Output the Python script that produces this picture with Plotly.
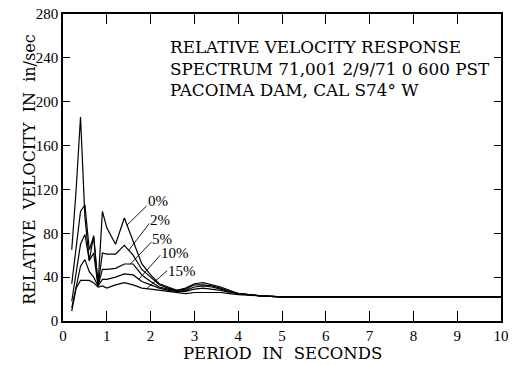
import numpy as np
import plotly.graph_objects as go

# Natural periods (seconds)
periods = [0.2, 0.3, 0.4, 0.5, 0.6, 0.7, 0.8, 0.9, 1.0, 1.2, 1.4, 1.6, 1.8, 2.0,
           2.2, 2.4, 2.6, 2.8, 3.0, 3.2, 3.4, 3.6, 3.8, 4.0, 4.5, 5.0, 5.5, 6.0,
           7.0, 8.0, 9.0, 10.0]

# Relative velocity (in/sec) for each damping ratio
damp_0 = [65, 120, 186, 95, 55, 78, 33, 100, 85, 70, 94, 72, 52, 42,
          34, 31, 28, 30, 34, 35, 33, 31, 28, 25, 23, 22, 22, 22, 22, 22, 22, 22]
damp_2 = [34, 65, 100, 106, 65, 77, 32, 62, 61, 61, 69, 60, 47, 40,
          33, 30, 28, 29, 33, 33, 32, 30, 27, 25, 23, 22, 22, 22, 22, 22, 22, 22]
damp_5 = [18, 45, 70, 79, 55, 62, 32, 47, 47, 48, 52, 52, 42, 36,
          31, 29, 27, 28, 31, 32, 31, 29, 27, 25, 23, 22, 22, 22, 22, 22, 22, 22]
damp_10 = [12, 32, 50, 56, 45, 40, 32, 38, 38, 40, 43, 42, 36, 33,
           30, 28, 27, 27, 29, 30, 29, 28, 26, 25, 23, 22, 22, 22, 22, 22, 22, 22]
damp_15 = [9, 30, 37, 37, 37, 35, 31, 32, 30, 33, 35, 33, 30, 29,
           28, 27, 26, 25, 26, 26, 26, 26, 25, 24, 23, 22, 22, 22, 22, 22, 22, 22]

labels = ["0%", "2%", "5%", "10%", "15%"]
series = [damp_0, damp_2, damp_5, damp_10, damp_15]

x_ticks = [0, 1, 2, 3, 4, 5, 6, 7, 8, 9, 10]
y_ticks = [0, 40, 80, 120, 160, 200, 240, 280]

# Label placement (text centre) and leader-line geometry per damping curve
label_pos = [(2.17, 109), (2.22, 92), (2.26, 75), (2.56, 62), (2.71, 46)]
leader_start = [(1.91, 105), (1.97, 89), (2.02, 72), (2.22, 60), (2.38, 46)]
leader_end_x = [1.46, 1.50, 1.54, 1.73, 1.91]

title_lines = ["RELATIVE VELOCITY RESPONSE",
               "SPECTRUM 71,001 2/9/71 0 600 PST",
               "PACOIMA DAM, CAL S74° W"]

SERIF = "'DejaVu Serif', 'Liberation Serif', serif"
TICKFONT = "'Liberation Serif', 'DejaVu Serif', serif"

fig = go.Figure()
for name, vals in zip(labels, series):
    fig.add_trace(go.Scatter(x=periods, y=vals, mode="lines", name=name,
                             line=dict(color="black", width=1.2),
                             showlegend=False, hoverinfo="skip"))

for name, vals, (tx, ty), (sx, sy), ex in zip(labels, series, label_pos,
                                             leader_start, leader_end_x):
    ey = float(np.interp(ex, periods, vals))
    fig.add_shape(type="line", x0=sx, y0=sy, x1=ex, y1=ey,
                  line=dict(color="black", width=0.9))
    fig.add_annotation(x=tx, y=ty, text=name, showarrow=False,
                       font=dict(family=TICKFONT, size=15, color="black"))

for i, line in enumerate(title_lines):
    fig.add_annotation(x=2.40, y=250 - 19.8 * i, text=line, showarrow=False,
                       xanchor="left", yanchor="middle",
                       font=dict(family=SERIF, size=16.8, color="black"))

fig.add_annotation(xref="paper", yref="paper", x=-0.103, y=0.494,
                   text="RELATIVE  VELOCITY  IN  in/sec", textangle=-90,
                   showarrow=False,
                   font=dict(family=SERIF, size=16, color="black"))
fig.add_annotation(xref="paper", yref="paper", x=0.502, y=-0.107,
                   text="PERIOD  IN  SECONDS", showarrow=False,
                   yanchor="middle",
                   font=dict(family=SERIF, size=16.5, color="black"))

axis_common = dict(showgrid=False, zeroline=False, showline=True,
                   linecolor="black", linewidth=1.5, mirror="allticks",
                   ticks="inside", tickcolor="black", tickwidth=1.2,
                   tickfont=dict(family=TICKFONT, size=15, color="black"))

fig.update_xaxes(range=[0, 10], tickvals=x_ticks, ticklen=10, **axis_common)
fig.update_yaxes(range=[0, 280], tickvals=y_ticks, ticklen=7, **axis_common)

fig.update_layout(width=515, height=365,
                  margin=dict(l=63, r=6, t=10, b=44),
                  plot_bgcolor="white", paper_bgcolor="white")

fig.write_html("out.html")
